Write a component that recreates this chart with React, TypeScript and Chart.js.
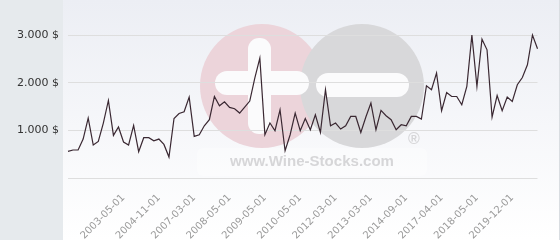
import React, { useEffect, useRef } from 'react';
import { Chart, registerables } from 'chart.js';

Chart.register(...registerables);

const prices = [
  557, 587, 587, 817, 1258, 692, 767, 1153, 1627, 893,
  1069, 755, 692, 1103, 551, 845, 845, 782, 817, 704,
  440, 1249, 1354, 1390, 1698, 872, 908, 1096, 1222, 1710,
  1515, 1599, 1480, 1452, 1362, 1488, 1614, 2096, 2515, 908,
  1153, 991, 1432, 572, 908, 1362, 991, 1249, 1012, 1327,
  956, 1851, 1096, 1153, 1027, 1096, 1291, 1291, 956, 1279,
  1572, 1012, 1417, 1306, 1222, 1012, 1117, 1096, 1291, 1291,
  1237, 1935, 1851, 2201, 1411, 1794, 1710, 1710, 1536, 1920,
  3000, 1920, 2913, 2689, 1279, 1731, 1411, 1698, 1606, 1956,
  2109, 2375, 3000, 2710,
];

const tickLabels = [
  '2003-05-01', '2004-11-01', '2007-03-01', '2008-05-01', '2009-05-01', '2010-05-01',
  '2012-03-01', '2013-03-01', '2014-09-01', '2017-04-01', '2018-05-01', '2019-12-01',
];
const tickIndices = [11, 18, 25, 32, 39, 46, 53, 60, 67, 74, 81, 88];
const yTicks = [0, 1000, 2000, 3000];

const W = 560;
const H = 240;

function fmt(v: number): string {
  const th = Math.floor(v / 1000);
  const rest = String(Math.round(v % 1000)).padStart(3, '0');
  return `${th}.${rest} $`;
}

const backgroundPlugin = {
  id: 'wsBackground',
  beforeDraw(chart: any) {
    const ctx = chart.ctx as CanvasRenderingContext2D;
    ctx.save();
    ctx.fillStyle = '#e6eaed';
    ctx.fillRect(0, 0, 63, H);
    const g = ctx.createLinearGradient(0, 0, 0, H);
    g.addColorStop(0, '#eceef4');
    g.addColorStop(1, '#ffffff');
    ctx.fillStyle = g;
    ctx.fillRect(63, 0, 496, H);
    ctx.fillStyle = '#d9dde1';
    ctx.fillRect(559, 0, 1, H);

    // watermark
    ctx.fillStyle = 'rgba(255,255,255,0.35)';
    ctx.beginPath();
    (ctx as any).roundRect(197, 148, 230, 28, 6);
    ctx.fill();

    ctx.fillStyle = '#ecd4da';
    ctx.beginPath();
    ctx.arc(262, 86, 62, 0, Math.PI * 2);
    ctx.fill();
    ctx.fillStyle = '#d8d8da';
    ctx.beginPath();
    ctx.arc(362, 86, 62, 0, Math.PI * 2);
    ctx.fill();

    ctx.fillStyle = '#fbfbfc';
    ctx.beginPath();
    (ctx as any).roundRect(248, 38, 23, 96, 11);
    ctx.fill();
    ctx.beginPath();
    (ctx as any).roundRect(215, 71, 94, 24, 12);
    ctx.fill();
    ctx.beginPath();
    (ctx as any).roundRect(316, 73, 93, 24, 12);
    ctx.fill();

    ctx.fillStyle = '#d6d6d8';
    ctx.font = 'bold 14px "Liberation Sans", Arial, sans-serif';
    ctx.textBaseline = 'middle';
    ctx.textAlign = 'left';
    const txt = 'www.Wine-Stocks.com';
    const w = ctx.measureText(txt).width;
    ctx.save();
    ctx.translate(230, 162);
    ctx.scale(164 / w, 1);
    ctx.fillText(txt, 0, 0);
    ctx.restore();
    ctx.font = 'bold 16px "Liberation Sans", Arial, sans-serif';
    ctx.textAlign = 'center';
    ctx.fillText('®', 414, 140);
    ctx.restore();
  },
};

export default function App() {
  const ref = useRef<HTMLCanvasElement | null>(null);

  useEffect(() => {
    if (!ref.current) return;
    const labels = prices.map((_, i) => {
      const k = tickIndices.indexOf(i);
      return k >= 0 ? tickLabels[k] : '';
    });
    const chart = new Chart(ref.current, {
      type: 'line',
      data: {
        labels,
        datasets: [
          {
            data: prices,
            borderColor: '#3a2832',
            borderWidth: 1.2,
            pointRadius: 0,
            tension: 0,
            fill: false,
            clip: false as any,
          },
        ],
      },
      options: {
        animation: false,
        responsive: false,
        maintainAspectRatio: false,
        layout: { padding: { top: 35, right: 5, left: 0, bottom: 0 } },
        plugins: { legend: { display: false }, tooltip: { enabled: false } },
        scales: {
          x: {
            type: 'category',
            offset: false,
            grid: { display: false, drawTicks: false },
            border: { display: false },
            afterFit: (s: any) => {
              s.height = 62;
            },
            ticks: {
              autoSkip: false,
              maxRotation: 45,
              minRotation: 45,
              padding: 14,
              color: '#9a9a9a',
              font: { family: 'DejaVu Sans', size: 10 },
            },
          },
          y: {
            min: 0,
            max: 3000,
            afterBuildTicks: (s: any) => {
              s.ticks = yTicks.map((v) => ({ value: v }));
            },
            afterFit: (s: any) => {
              s.width = 68;
            },
            grid: { color: '#dedede', drawTicks: false, lineWidth: 1 },
            border: { display: false },
            ticks: {
              padding: 9,
              color: '#333333',
              font: { family: 'DejaVu Sans', size: 11 },
              callback: (v: any) => (Number(v) === 0 ? '' : fmt(Number(v))),
            },
          },
        },
      },
      plugins: [backgroundPlugin],
    });
    return () => chart.destroy();
  }, []);

  return (
    <div style={{ position: 'absolute', left: 0, top: 0, width: W, height: H }}>
      <canvas ref={ref} width={W} height={H} style={{ display: 'block' }} />
    </div>
  );
}
